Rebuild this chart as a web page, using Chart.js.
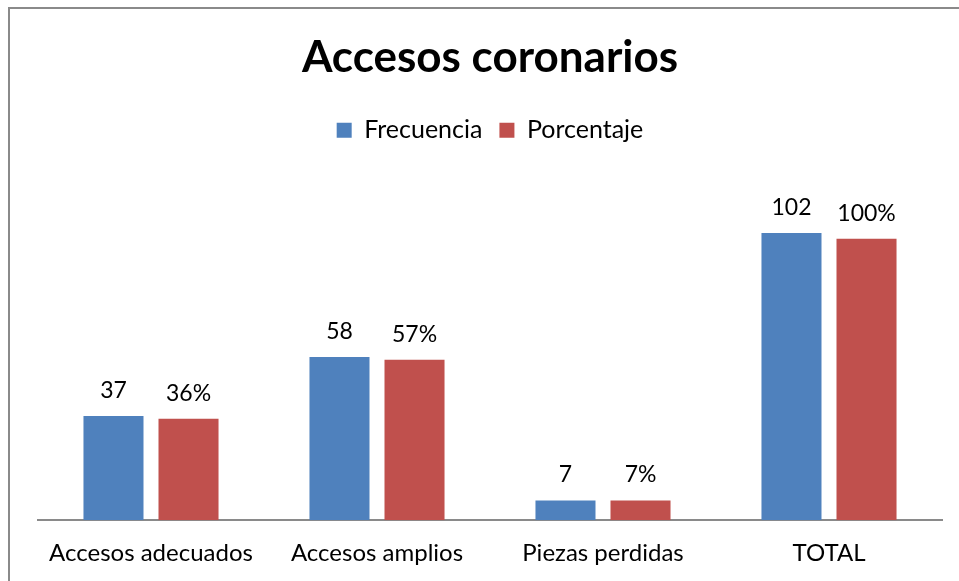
<!DOCTYPE html>
<html>
<head>
<meta charset="utf-8">
<script src="https://cdn.jsdelivr.net/npm/chart.js@4.4.1/dist/chart.umd.min.js"></script>
<style>
  html,body{margin:0;padding:0;background:#fff;overflow:hidden}
  #wrap{position:relative;width:959px;height:581px}
  #frame{position:absolute;left:8px;top:7px;width:1000px;height:1000px;border:2px solid #8a8a8a;box-sizing:border-box}
  canvas{position:absolute;left:0;top:0}
</style>
</head>
<body>
<div id="wrap">
  <div id="frame"></div>
  <canvas id="chart" width="959" height="581"></canvas>
</div>
<script>
// ── DATA ─────────────────────────────────────────────
const categories = ['Accesos adecuados','Accesos amplios','Piezas perdidas','TOTAL'];
const frecuencia = [37, 58, 7, 102];
const porcentaje = [36, 57, 7, 100];
const seriesNames = ['Frecuencia','Porcentaje'];

const FONT = 'Lato, Calibri, Carlito, sans-serif';

// value labels above each bar
const barLabels = {
    id:'barLabels',
    afterDatasetsDraw(chart){
        const ctx = chart.ctx;
        ctx.save();
        ctx.font = '23px '+FONT;
        ctx.fillStyle = '#000';
        ctx.textAlign = 'center';
        ctx.textBaseline = 'alphabetic';
        chart.data.datasets.forEach((ds,i)=>{
            chart.getDatasetMeta(i).data.forEach((bar,j)=>{
                const txt = ds.data[j] + (i===1?'%':'');
                ctx.fillText(txt, bar.x, bar.y - 18);
            });
        });
        ctx.restore();
    }
};

new Chart(document.getElementById('chart'),{
    type:'bar',
    data:{
        labels:categories,
        datasets:[
            {label:seriesNames[0],data:frecuencia,backgroundColor:'#4f81bd',borderWidth:0},
            {label:seriesNames[1],data:porcentaje,backgroundColor:'#c0504d',borderWidth:0}
        ]
    },
    options:{
        responsive:false,
        animation:false,
        devicePixelRatio:1,
        layout:{padding:{left:38,right:17,top:0,bottom:-6}},
        datasets:{bar:{categoryPercentage:0.664,barPercentage:0.8}},
        plugins:{
            title:{display:true,text:'Accesos coronarios',color:'#000',
                font:{family:FONT,size:44,weight:'bold'},padding:{top:31,bottom:17}},
            legend:{position:'top',labels:{color:'#000',boxWidth:15,boxHeight:15,padding:17,
                font:{family:FONT,size:25}}},
            tooltip:{enabled:false}
        },
        scales:{
            x:{grid:{display:false,drawTicks:false},
               border:{color:'#8a8a8a',width:2},
               ticks:{color:'#000',padding:19,font:{family:FONT,size:24}}},
            y:{display:false,min:0,max:130.5}
        }
    },
    plugins:[barLabels]
});
</script>
</body>
</html>
